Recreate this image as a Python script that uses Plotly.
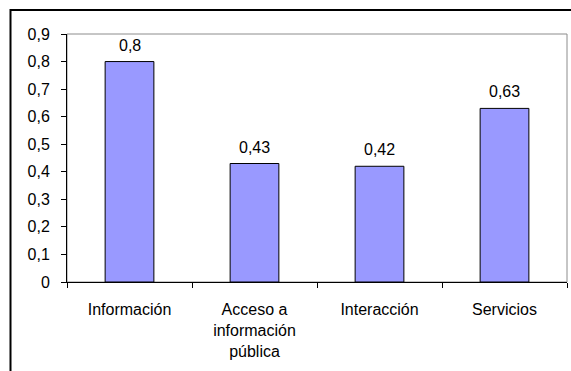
import plotly.graph_objects as go

categories = ["Información", "Acceso a<br>información<br>pública", "Interacción", "Servicios"]
values = [0.8, 0.43, 0.42, 0.63]
value_labels = ["0,8", "0,43", "0,42", "0,63"]
tick_vals = [0, 0.1, 0.2, 0.3, 0.4, 0.5, 0.6, 0.7, 0.8, 0.9]

FONT = "Liberation Sans, Arial, sans-serif"
FS = 16

fig = go.Figure()
fig.add_trace(go.Bar(
    x=categories, y=values,
    marker=dict(color="#9999FF", line=dict(color="black", width=1)),
    width=0.39,
    hoverinfo="skip",
))

for c, v, t in zip(categories, values, value_labels):
    fig.add_annotation(x=c, y=v, text=t, showarrow=False, xref="x", yref="y",
                       yanchor="bottom", yshift=6,
                       font=dict(family=FONT, size=FS, color="black"))

# plot-area frame (gray top/right)
fig.add_shape(type="rect", xref="paper", yref="paper", x0=0, x1=1, y0=0, y1=1,
              line=dict(color="#8c8c8c", width=1), layer="below")
# outer chart border (partially cropped)
fig.add_shape(type="rect", xref="paper", yref="paper", x0=-0.113, x1=1.2, y0=-0.5, y1=1.097,
              line=dict(color="black", width=2), layer="below")

fig.update_layout(
    width=571, height=371,
    margin=dict(l=67, r=4, t=34, b=89),
    paper_bgcolor="white", plot_bgcolor="white",
    separators=",.",
    showlegend=False,
    font=dict(family=FONT, size=FS, color="black"),
)
fig.update_xaxes(
    type="category", showline=True, linecolor="black", linewidth=1,
    ticks="outside", tickson="boundaries", ticklen=5, tickcolor="black",
    showgrid=False, tickfont=dict(family=FONT, size=FS), ticklabelstandoff=13,
)
fig.update_yaxes(
    range=[0, 0.9], tickvals=tick_vals, showline=True, linecolor="black", linewidth=1,
    ticks="outside", ticklen=5, tickcolor="black", showgrid=False, zeroline=False,
    tickfont=dict(family=FONT, size=FS), ticklabelstandoff=8,
)

fig.write_html("out.html")
